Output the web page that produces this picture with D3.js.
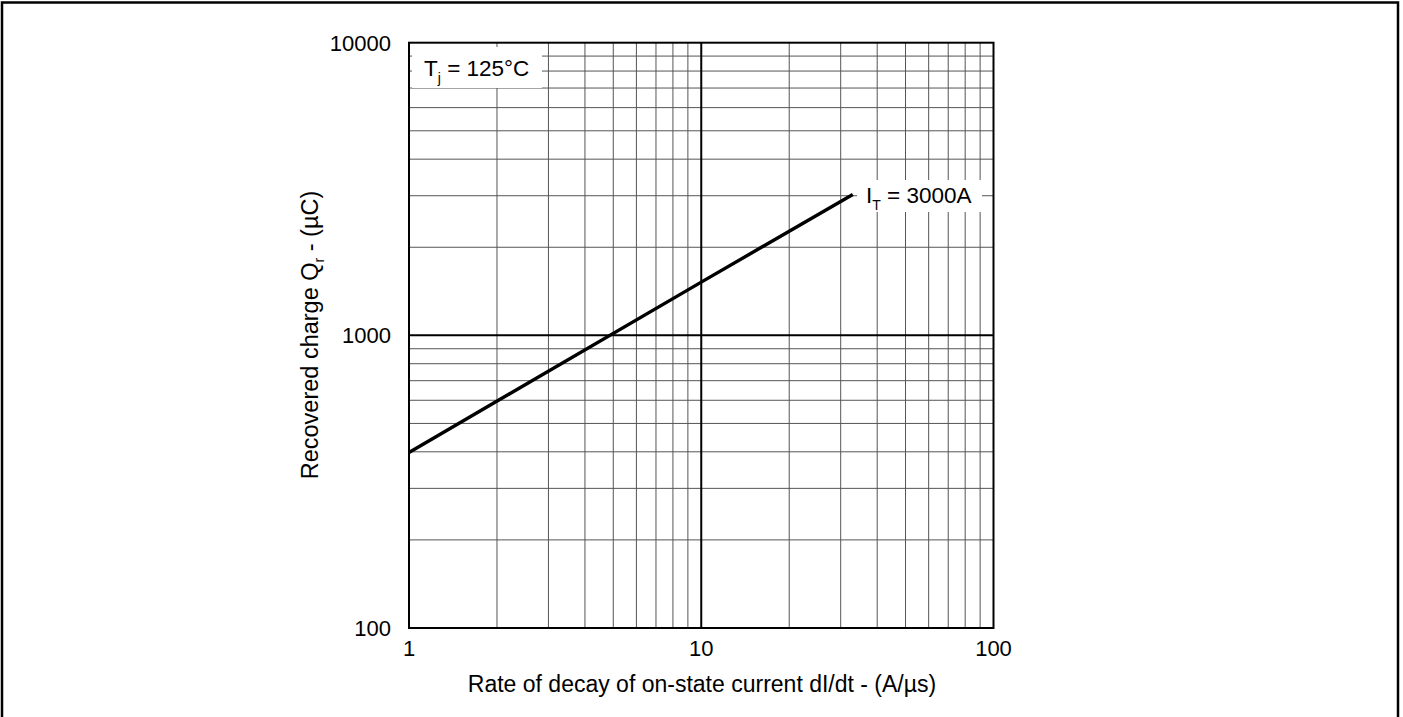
<!DOCTYPE html>
<html>
<head>
<meta charset="utf-8">
<script src="https://cdn.jsdelivr.net/npm/d3@7"></script>
<style>
  body { margin: 0; background: #fff; }
  text { font-family: "Liberation Sans", Arial, sans-serif; fill: #000; }
</style>
</head>
<body>
<svg id="chart" width="1403" height="717"></svg>
<script>
// values
var xTicks = [1, 10, 100];
var yTicks = [100, 1000, 10000];
var didt = [1, 10, 33];          // A/us
var qr = [398, 1520, 3030];      // uC
var curveLabel = "3000A";
var tempLabel = " = 125°C";

var svg = d3.select("#chart");

// outer frame
svg.append("rect")
    .attr("x", 2).attr("y", 2.5)
    .attr("width", 1396).attr("height", 740)
    .attr("fill", "none").attr("stroke", "#000").attr("stroke-width", 2.5);

var x = d3.scaleLog().domain([1, 100]).range([409, 993.5]);
var y = d3.scaleLog().domain([100, 10000]).range([628, 42.7]);

var g = svg.append("g");

// minor grid
g.selectAll("line.vx")
    .data(x.ticks().filter(function(d) { return xTicks.indexOf(d) < 0; }))
  .enter().append("line")
    .attr("x1", function(d) { return x(d); }).attr("x2", function(d) { return x(d); })
    .attr("y1", y(10000)).attr("y2", y(100))
    .attr("stroke", "#555").attr("stroke-width", 1);

g.selectAll("line.hy")
    .data(y.ticks().filter(function(d) { return yTicks.indexOf(d) < 0; }))
  .enter().append("line")
    .attr("y1", function(d) { return y(d); }).attr("y2", function(d) { return y(d); })
    .attr("x1", x(1)).attr("x2", x(100))
    .attr("stroke", "#555").attr("stroke-width", 1);

// major grid
g.append("line")
    .attr("x1", x(10)).attr("x2", x(10)).attr("y1", y(10000)).attr("y2", y(100))
    .attr("stroke", "#000").attr("stroke-width", 2);
g.append("line")
    .attr("y1", y(1000)).attr("y2", y(1000)).attr("x1", x(1)).attr("x2", x(100))
    .attr("stroke", "#000").attr("stroke-width", 2);

// label boxes cover the grid
g.append("rect").attr("x", 412).attr("y", 47).attr("width", 130).attr("height", 41).attr("fill", "#fff");
g.append("rect").attr("x", 857).attr("y", 180).attr("width", 125).attr("height", 32).attr("fill", "#fff");

// plot border
g.append("rect")
    .attr("x", x(1)).attr("y", y(10000))
    .attr("width", x(100) - x(1)).attr("height", y(100) - y(10000))
    .attr("fill", "none").attr("stroke", "#000").attr("stroke-width", 2);

// curve
var line = d3.line()
    .x(function(d, i) { return x(didt[i]); })
    .y(function(d) { return y(d); });

g.append("path")
    .datum(qr)
    .attr("d", line)
    .attr("fill", "none").attr("stroke", "#000").attr("stroke-width", 3.4);

// tick labels
g.selectAll("text.xt")
    .data(xTicks)
  .enter().append("text")
    .attr("x", function(d) { return x(d); })
    .attr("y", 656)
    .attr("text-anchor", "middle")
    .style("font-size", "22px")
    .text(function(d) { return d; });

g.selectAll("text.yt")
    .data(yTicks)
  .enter().append("text")
    .attr("x", 391)
    .attr("y", function(d) { return y(d) + 8; })
    .attr("text-anchor", "end")
    .style("font-size", "22px")
    .text(function(d) { return d; });

// axis titles
g.append("text")
    .attr("x", 702).attr("y", 692)
    .attr("text-anchor", "middle")
    .style("font-size", "23px")
    .text("Rate of decay of on-state current dI/dt - (A/µs)");

var yt = g.append("text")
    .attr("transform", "translate(318,335) rotate(-90)")
    .attr("text-anchor", "middle")
    .style("font-size", "23.5px");
yt.append("tspan").text("Recovered charge Q");
yt.append("tspan").attr("dy", 6).style("font-size", "14px").text("r");
yt.append("tspan").attr("dy", -6).text(" -  (µC)");

// annotations
var tj = g.append("text").attr("x", 424).attr("y", 76).style("font-size", "22.5px");
tj.append("tspan").text("T");
tj.append("tspan").attr("dy", 7).style("font-size", "14px").text("j");
tj.append("tspan").attr("dy", -7).text(tempLabel);

var it = g.append("text").attr("x", 866).attr("y", 203).style("font-size", "22.5px");
it.append("tspan").text("I");
it.append("tspan").attr("dy", 7).style("font-size", "14px").text("T");
it.append("tspan").attr("dy", -7).text(" = " + curveLabel);
</script>
</body>
</html>
